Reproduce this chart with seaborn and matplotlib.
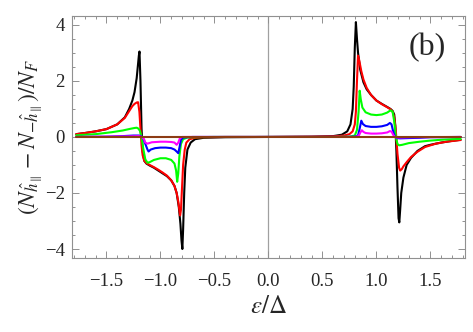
import numpy as np
import pandas as pd
import matplotlib
matplotlib.use("Agg")
import matplotlib.pyplot as plt
from matplotlib.ticker import MultipleLocator
import seaborn as sns

# values (eps/Delta, (N+ - N-)/N_F)
black_x = [-1.78, -1.7, -1.6, -1.5, -1.4, -1.33, -1.29, -1.26, -1.24, -1.22, -1.21, -1.2, -1.194,
           -1.185, -1.175, -1.165, -1.15, -1.13, -1.1, -1.06, -1.02, -0.98, -0.94, -0.9, -0.87,
           -0.85, -0.83, -0.815, -0.805, -0.797, -0.79, -0.78, -0.77, -0.75, -0.72, -0.68, -0.6, -0.4,
           0.0, 0.4, 0.6, 0.68, 0.73, 0.76, 0.78, 0.79, 0.8, 0.81, 0.82, 0.83, 0.85, 0.88, 0.91, 0.95,
           1.0, 1.05, 1.1, 1.13, 1.15, 1.165, 1.175, 1.185, 1.195, 1.205, 1.212, 1.22, 1.23, 1.25,
           1.28, 1.32, 1.38, 1.45, 1.5, 1.6, 1.7, 1.78]
black_y = [0.1, 0.14, 0.2, 0.28, 0.45, 0.7, 1.0, 1.3, 1.6, 2.1, 2.5, 2.9, 3.05,
           2.0, 0.3, -0.5, -0.85, -0.95, -1.02, -1.1, -1.2, -1.3, -1.4, -1.55, -1.75,
           -2.0, -2.5, -3.1, -3.7, -4.0, -3.3, -2.0, -1.1, -0.45, -0.2, -0.08, -0.03, -0.01,
           0.0, 0.01, 0.03, 0.08, 0.2, 0.45, 1.0, 1.8, 3.2, 4.1, 3.5, 3.0, 2.4, 1.95, 1.7, 1.5,
           1.3, 1.18, 1.07, 1.0, 0.93, 0.8, 0.4, -0.5, -1.8, -2.9, -3.05, -2.6, -2.0, -1.45,
           -1.0, -0.75, -0.5, -0.33, -0.28, -0.2, -0.14, -0.1]

red_x = [-1.78, -1.7, -1.6, -1.5, -1.4, -1.33, -1.29, -1.26, -1.24, -1.22, -1.207, -1.195,
         -1.185, -1.175, -1.165, -1.15, -1.13, -1.1, -1.06, -1.02, -0.98, -0.94, -0.9, -0.87,
         -0.85, -0.835, -0.825, -0.818, -0.81, -0.8, -0.79, -0.775, -0.76, -0.73, -0.68, -0.6, -0.4,
         0.0, 0.4, 0.6, 0.7, 0.75, 0.78, 0.8, 0.81, 0.82, 0.83, 0.84, 0.86, 0.88, 0.91, 0.95,
         1.0, 1.05, 1.1, 1.13, 1.15, 1.165, 1.18, 1.195, 1.21, 1.22, 1.235, 1.25, 1.28, 1.32,
         1.38, 1.45, 1.55, 1.65, 1.78]
red_y = [0.1, 0.14, 0.2, 0.28, 0.45, 0.68, 0.92, 1.1, 1.18, 1.23, 1.24, 0.9,
         0.3, -0.3, -0.65, -0.85, -0.93, -1.0, -1.08, -1.17, -1.27, -1.38, -1.55, -1.75,
         -2.0, -2.3, -2.6, -2.8, -2.6, -1.8, -1.0, -0.45, -0.2, -0.08, -0.03, -0.01, 0.0,
         0.0, 0.01, 0.02, 0.05, 0.1, 0.2, 0.45, 0.9, 2.0, 2.9, 2.75, 2.35, 2.05, 1.75, 1.5,
         1.3, 1.17, 1.06, 0.99, 0.9, 0.7, 0.2, -0.6, -1.1, -1.2, -1.15, -1.05, -0.9, -0.72,
         -0.53, -0.36, -0.24, -0.17, -0.11]

green_x = [-1.78, -1.6, -1.45, -1.35, -1.28, -1.24, -1.22, -1.205, -1.19, -1.175, -1.16, -1.14,
           -1.12, -1.1, -1.06, -1.0, -0.95, -0.9, -0.87, -0.855, -0.845, -0.835, -0.825, -0.81,
           -0.79, -0.75, -0.7, -0.5,
           0.0, 0.6, 0.75, 0.8, 0.82, 0.835, 0.845, 0.855, 0.87, 0.9, 0.95, 1.0, 1.05, 1.1, 1.13,
           1.15, 1.165, 1.18, 1.195, 1.21, 1.24, 1.3, 1.4, 1.5, 1.6, 1.7, 1.78]
green_y = [0.06, 0.1, 0.17, 0.23, 0.29, 0.32, 0.33, 0.3, 0.22, 0.0, -0.4, -0.8,
           -0.92, -0.9, -0.82, -0.76, -0.76, -0.82, -0.95, -1.2, -1.6, -1.3, -0.7, -0.25,
           -0.08, -0.02, -0.01, 0.0,
           0.0, 0.0, 0.01, 0.05, 0.25, 0.9, 1.65, 1.35, 1.05, 0.88, 0.8, 0.78, 0.8, 0.87, 0.95,
           0.9, 0.55, 0.0, -0.25, -0.3, -0.28, -0.22, -0.17, -0.13, -0.1, -0.08, -0.07]

blue_x = [-1.78, -1.5, -1.35, -1.25, -1.2, -1.18, -1.16, -1.14, -1.12, -1.11, -1.09, -1.05,
          -1.0, -0.95, -0.9, -0.87, -0.85, -0.835, -0.825, -0.81, -0.79, -0.7,
          0.0, 0.7, 0.8, 0.83, 0.845, 0.86, 0.875, 0.9, 0.95, 1.0, 1.05, 1.1, 1.125, 1.14,
          1.155, 1.17, 1.19, 1.22, 1.3, 1.4, 1.5, 1.78]
blue_y = [0.0, 0.01, 0.03, 0.05, 0.05, 0.03, -0.05, -0.25, -0.45, -0.52, -0.45, -0.4,
          -0.38, -0.38, -0.4, -0.45, -0.52, -0.58, -0.4, -0.1, -0.02, 0.0,
          0.0, 0.0, 0.01, 0.05, 0.3, 0.58, 0.46, 0.39, 0.36, 0.36, 0.38, 0.43, 0.5, 0.45,
          0.2, 0.02, -0.04, -0.05, -0.04, -0.03, -0.01, 0.0]

magenta_x = [-1.78, -1.3, -1.2, -1.17, -1.15, -1.14, -1.12, -1.08, -1.0, -0.95, -0.9, -0.87,
             -0.86, -0.85, -0.835, -0.82, -0.8,
             0.0, 0.8, 0.835, 0.85, 0.865, 0.88, 0.9, 0.95, 1.0, 1.05, 1.1, 1.125, 1.14,
             1.155, 1.17, 1.19, 1.3, 1.78]
magenta_y = [0.0, 0.02, 0.03, 0.0, -0.1, -0.2, -0.24, -0.19, -0.17, -0.17, -0.18, -0.2,
             -0.24, -0.28, -0.2, -0.05, 0.0,
             0.0, 0.0, 0.03, 0.15, 0.24, 0.18, 0.14, 0.12, 0.12, 0.13, 0.16, 0.21, 0.19,
             0.08, 0.0, -0.02, -0.01, 0.0]

brown_x = [-1.78, 1.78]
brown_y = [0.0, 0.0]

curves = [
    (black_x, black_y, "black"),
    (red_x, red_y, "#ff0000"),
    (green_x, green_y, "#00ff00"),
    (blue_x, blue_y, "#0000ff"),
    (magenta_x, magenta_y, "#ff00ff"),
    (brown_x, brown_y, "#8c3c14"),
]

sns.set_style("ticks")
plt.rcParams["font.family"] = ["Liberation Serif", "DejaVu Serif"]
plt.rcParams["mathtext.fontset"] = "stix"

fig = plt.figure(figsize=(4.73, 3.32), dpi=100)
ax = fig.add_axes([0.152, 0.223, 0.831, 0.729])

ax.axvline(0, color="#a0a0a0", lw=0.9, zorder=0)

for xs, ys, col in curves:
    df = pd.DataFrame({"x": xs, "y": ys})
    sns.lineplot(data=df, x="x", y="y", color=col, lw=1.5, ax=ax,
                 estimator=None, sort=False)

ax.set_xlim(-1.82, 1.82)
ax.set_ylim(-4.32, 4.32)
ax.xaxis.set_major_locator(MultipleLocator(0.5))
ax.xaxis.set_minor_locator(MultipleLocator(0.1))
ax.yaxis.set_major_locator(MultipleLocator(2))
ax.yaxis.set_minor_locator(MultipleLocator(0.5))
ax.xaxis.set_major_formatter(plt.FuncFormatter(lambda v, p: f"{v:.1f}".replace("-", "\u2212")))
ax.yaxis.set_major_formatter(plt.FuncFormatter(lambda v, p: f"{v:.0f}".replace("-", "\u2212")))

ax.tick_params(which="both", direction="in", top=True, right=True,
               color="#909090", labelsize=13.5, width=0.7)
ax.tick_params(axis="x", which="major", pad=11)
ax.tick_params(axis="y", which="major", pad=5)
ax.tick_params(which="major", length=5)
ax.tick_params(which="minor", length=2.5)
for s in ax.spines.values():
    s.set_color("#909090")
    s.set_linewidth(0.8)

ax.set_xlabel(r"$\varepsilon/\Delta$", fontsize=18, labelpad=4)
ax.set_ylabel(r"$(N_{\hat{h}_\parallel}-N_{-\hat{h}_\parallel})/N_F$", fontsize=17, labelpad=0)
ax.text(0.905, 0.87, "(b)", transform=ax.transAxes, fontsize=23,
        ha="center", va="center")

fig.savefig("out.png", dpi=100)
